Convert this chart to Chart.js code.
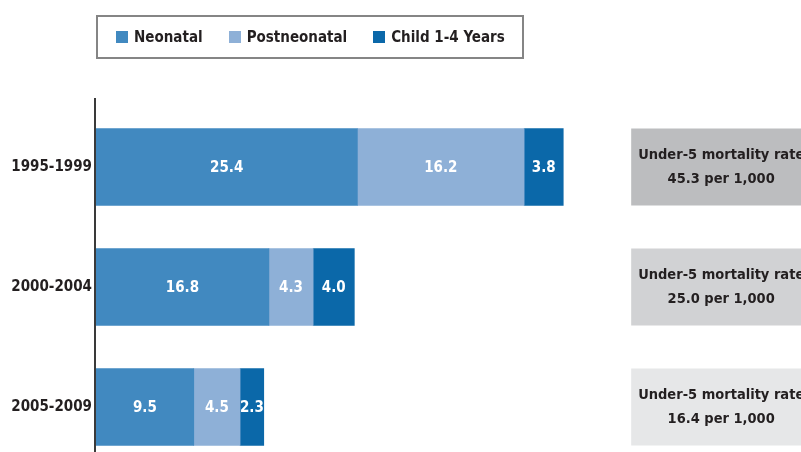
<!DOCTYPE html>
<html>
<head>
<meta charset="utf-8">
<script src="https://cdn.jsdelivr.net/npm/chart.js@4/dist/chart.umd.min.js"></script>
<style>
body { margin: 0; overflow: hidden; background: #fff; }
#wrap { position: relative; width: 801px; height: 452px; overflow: hidden; }
#legend { position: absolute; left: 96px; top: 15px; width: 428px; height: 44px; border: 2px solid #858585;
  display: flex; align-items: center; padding-left: 18px; box-sizing: border-box; }
#legend .item { display: flex; align-items: center; margin-right: 26px; font-weight: bold; font-size: 15px; color: #231f20;
  font-family: "DejaVu Sans Condensed", "DejaVu Sans", sans-serif; font-stretch: condensed; white-space: nowrap; }
#legend .sw { width: 12px; height: 12px; margin-right: 6px; }
</style>
</head>
<body>
<div id="wrap">
	<canvas id="chart" width="801" height="480"></canvas>
	<div id="legend"></div>
</div>
<script>
var periods = ["1995-1999", "2000-2004", "2005-2009"];
var neonatal = [25.4, 16.8, 9.5];
var postneonatal = [16.2, 4.3, 4.5];
var child = [3.8, 4.0, 2.3];
var under5 = [45.3, 25.0, 16.4];
var seriesNames = ["Neonatal", "Postneonatal", "Child 1-4 Years"];
var seriesColors = ["#4189c0", "#8eb0d7", "#0b68a9"];
var boxColors = ["#bcbdbf", "#d1d2d4", "#e6e7e8"];

var textColor = "#231f20";
var fontFamily = "'DejaVu Sans Condensed', 'DejaVu Sans', sans-serif";

// white value labels inside each segment
var barLabels = {
	id: 'barLabels',
	afterDatasetsDraw: function(chart) {
		var ctx = chart.ctx;
		ctx.save();
		ctx.font = "bold 15px " + fontFamily;
		ctx.fillStyle = "#ffffff";
		ctx.textAlign = "center";
		ctx.textBaseline = "middle";
		chart.data.datasets.forEach(function(ds, i) {
			var meta = chart.getDatasetMeta(i);
			meta.data.forEach(function(bar, j) {
				var p = bar.getCenterPoint();
				ctx.fillText(ds.data[j].toFixed(1), p.x, p.y + 1);
			});
		});
		ctx.restore();
	}
};

// gray boxes with the under-5 totals, plus the axis line
var rateBoxes = {
	id: 'rateBoxes',
	afterDraw: function(chart) {
		var ctx = chart.ctx;
		var xs = chart.scales.x;
		var ys = chart.scales.y;
		var area = chart.chartArea;
		ctx.save();
		ctx.strokeStyle = "#3a3a3a";
		ctx.lineWidth = 2;
		ctx.beginPath();
		ctx.moveTo(area.left - 1, 98);
		ctx.lineTo(area.left - 1, area.bottom);
		ctx.stroke();

		var x0 = xs.getPixelForValue(52);
		var cx = x0 + 90;
		under5.forEach(function(v, i) {
			var cy = ys.getPixelForValue(i);
			ctx.fillStyle = boxColors[i];
			ctx.fillRect(x0, cy - 38.5, 200, 77);
			ctx.fillStyle = textColor;
			ctx.font = "bold 14.5px " + fontFamily;
			ctx.textAlign = "center";
			ctx.textBaseline = "middle";
			ctx.fillText("Under-5 mortality rate", cx, cy - 12);
			ctx.fillText(v.toFixed(1) + " per 1,000", cx, cy + 12);
		});
		ctx.restore();
	}
};

var allSeries = [neonatal, postneonatal, child];
var datasets = allSeries.map(function(d, i) {
	return {
		label: seriesNames[i],
		data: d,
		backgroundColor: seriesColors[i],
		borderWidth: 0,
		barThickness: 77
	};
});

var ctx = document.getElementById("chart").getContext('2d');
var myChart = new Chart(ctx, {
	type: 'bar',
	data: { labels: periods, datasets: datasets },
	options: {
		indexAxis: 'y',
		responsive: false,
		animation: false,
		layout: { padding: { top: 107, bottom: 3, right: 0, left: 0 } },
		plugins: { legend: { display: false }, tooltip: { enabled: false } },
		scales: {
			x: { stacked: true, min: 0, max: 68.5, display: false },
			y: {
				stacked: true,
				grid: { display: false, drawTicks: false },
				border: { display: false },
				ticks: { color: textColor, padding: 4, font: { family: fontFamily, size: 15, weight: 'bold' } },
				afterFit: function(scale) { scale.width = 96; }
			}
		}
	},
	plugins: [barLabels, rateBoxes]
});

// legend built from the datasets
var leg = document.getElementById("legend");
datasets.forEach(function(ds) {
	var it = document.createElement("div");
	it.className = "item";
	it.innerHTML = '<span class="sw" style="background:' + ds.backgroundColor + '"></span>' + ds.label;
	leg.appendChild(it);
});
</script>
</body>
</html>
